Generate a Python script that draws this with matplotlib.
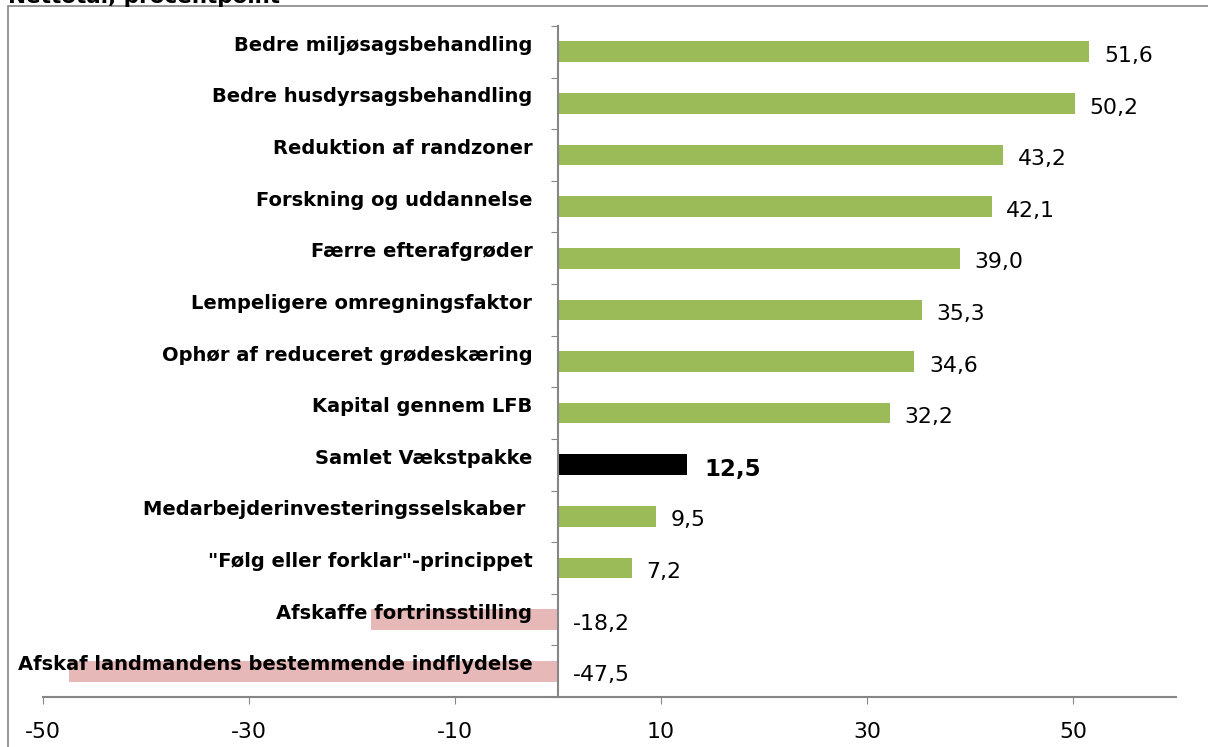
import matplotlib
matplotlib.use("Agg")
import matplotlib.pyplot as plt
from matplotlib.patches import Rectangle

categories = [
    "Bedre miljøsagsbehandling",
    "Bedre husdyrsagsbehandling",
    "Reduktion af randzoner",
    "Forskning og uddannelse",
    "Færre efterafgrøder",
    "Lempeligere omregningsfaktor",
    "Ophør af reduceret grødeskæring",
    "Kapital gennem LFB",
    "Samlet Vækstpakke",
    "Medarbejderinvesteringsselskaber ",
    "\"Følg eller forklar\"-princippet",
    "Afskaffe fortrinsstilling",
    "Afskaf landmandens bestemmende indflydelse",
]
values = [51.6, 50.2, 43.2, 42.1, 39.0, 35.3, 34.6, 32.2, 12.5, 9.5, 7.2, -18.2, -47.5]
total_label = "Samlet Vækstpakke"
xticks = [-50, -30, -10, 10, 30, 50]
title = "Nettotal, procentpoint"

GREEN = "#9BBB59"
PINK = "#E6B9B8"
GREY = "#868686"

plt.rcParams["font.family"] = ["DejaVu Sans"]

fig = plt.figure(figsize=(12.08, 7.47), dpi=100)
ax = fig.add_axes([43 / 1208, 50 / 747, (1176 - 43) / 1208, (697 - 26) / 747])

# outer chart frame, cut off at right/bottom like the source
fig.patches.append(Rectangle((8 / 1208, -0.1), 1.2, (741 / 747) + 0.1,
                             transform=fig.transFigure, fill=False,
                             edgecolor=GREY, linewidth=1.2))
fig.text(8 / 1208, 744 / 747, title, fontsize=15.5, fontweight="bold", va="baseline")

ypos = list(range(len(categories)))
colors = []
for c, v in zip(categories, values):
    if c == total_label:
        colors.append("black")
    elif v < 0:
        colors.append(PINK)
    else:
        colors.append(GREEN)

ax.barh(ypos, values, height=0.4, color=colors, zorder=2)

for y, c, v in zip(ypos, categories, values):
    ax.annotate(c, (0, y), xytext=(-18.5, 0.7), textcoords="offset points",
                ha="right", va="baseline", fontsize=14, fontweight="bold", zorder=5)
    lab = f"{v:.1f}".replace(".", ",")
    xv = max(v, 0)
    if c == total_label:
        ax.annotate(lab, (xv, y), xytext=(13, -8), textcoords="offset points",
                    ha="left", va="baseline", fontsize=16.5, fontweight="bold")
    else:
        ax.annotate(lab, (xv, y), xytext=(10.5, -7.3), textcoords="offset points",
                    ha="left", va="baseline", fontsize=15.8)

ax.set_xlim(-50, 60)
ax.set_ylim(len(categories) - 0.5, -0.5)
ax.set_xticks(xticks)
ax.set_xticklabels([str(t) for t in xticks])
ax.set_yticks([i - 0.5 for i in range(len(categories) + 1)])
ax.set_yticklabels([])

ax.spines["top"].set_visible(False)
ax.spines["right"].set_visible(False)
ax.spines["left"].set_position(("data", 0))
for s in ("left", "bottom"):
    ax.spines[s].set_color(GREY)
    ax.spines[s].set_linewidth(1.5)
ax.tick_params(axis="x", direction="out", length=5, color=GREY, labelsize=15.8, pad=13)
ax.tick_params(axis="y", direction="out", length=5, color=GREY)

fig.savefig("out.png", dpi=100)
